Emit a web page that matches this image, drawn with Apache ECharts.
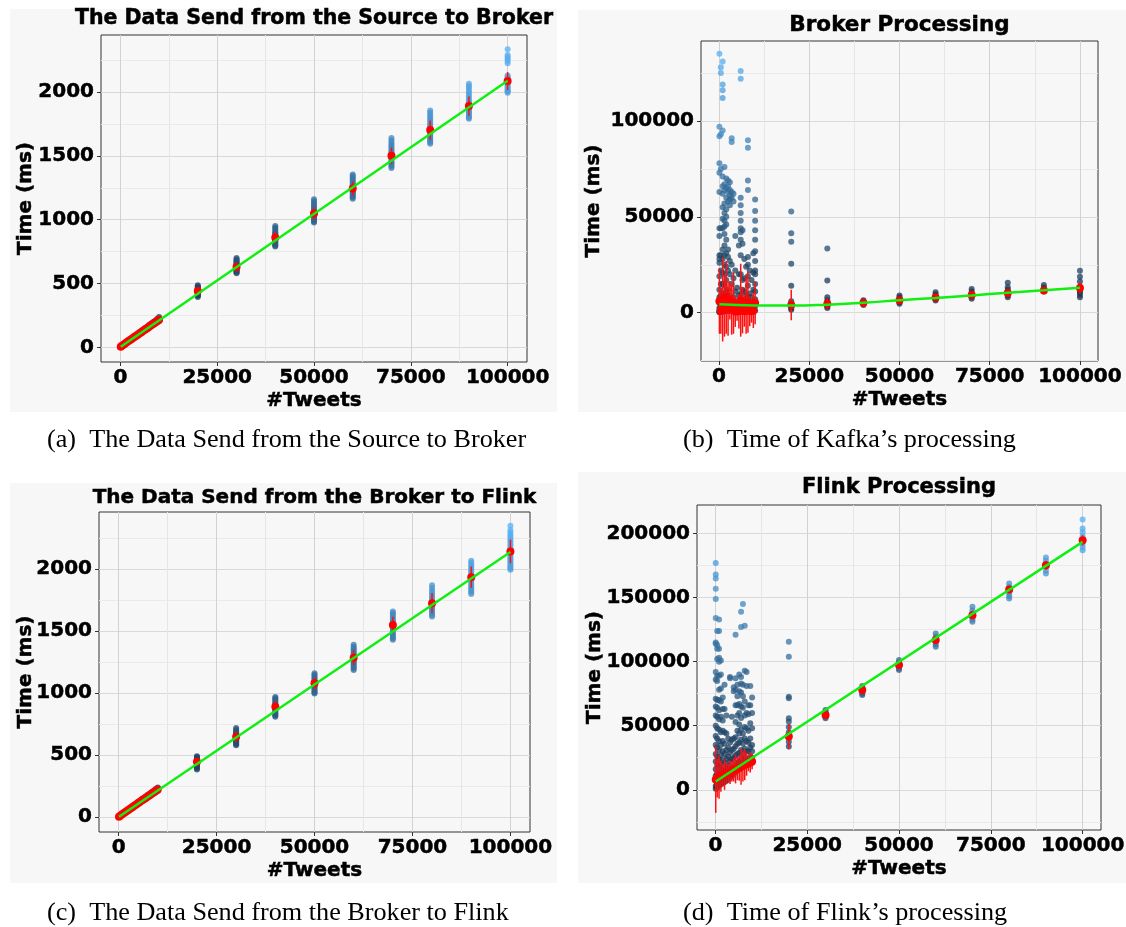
<!DOCTYPE html>
<html>
<head>
<meta charset="utf-8">
<title>Tweets timing</title>
<script src="https://cdn.jsdelivr.net/npm/echarts@6/dist/echarts.min.js"></script>
<style>
  html, body { margin: 0; padding: 0; background: #fff; }
  #main { width: 1126px; height: 927px; }
</style>
</head>
<body>
<div id="main"></div>
<script>
// x values (number of tweets)
const tweetsSmall = [100, 500, 1000, 1500, 2000, 2500, 3000, 3500, 4000, 4500, 5000, 5500, 6000, 6500, 7000, 7500, 8000, 8500, 9000, 9500, 10000];
const tweetsLarge = [20000, 30000, 40000, 50000, 60000, 70000, 80000, 90000, 100000];
const tweets = tweetsSmall.concat(tweetsLarge);

// tick labels
const xTicks = [0, 25000, 50000, 75000, 100000];
const xMinorTicks = [12500, 37500, 62500, 87500];
const yTicksSend = [0, 500, 1000, 1500, 2000];
const yMinorSend = [250, 750, 1250, 1750, 2250];
const yTicksBroker = [0, 50000, 100000];
const yMinorBroker = [-25000, 25000, 75000, 125000];
const yTicksFlink = [0, 50000, 100000, 150000, 200000];
const yMinorFlink = [-25000, 25000, 75000, 125000, 175000];

// (a) source -> broker, raw runs per x
const sourceToBrokerRaw = [
  [2, 4, 5, 8], [10, 12, 15, 19], [20, 23, 26, 31], [31, 34, 37, 42], [41, 45, 48, 53],
  [52, 55, 58, 64], [62, 65, 69, 75], [72, 76, 80, 86], [82, 86, 91, 97], [92, 97, 101, 108],
  [103, 107, 112, 120], [113, 118, 123, 131], [123, 128, 134, 142], [134, 139, 145, 153], [144, 149, 155, 164],
  [154, 160, 166, 176], [165, 170, 177, 187], [175, 181, 188, 198], [185, 191, 198, 209], [195, 202, 209, 221],
  [205, 212, 220, 238],
  [395, 405, 410, 416, 422, 428, 432, 436, 440, 444, 448, 452, 456, 461, 466, 472, 478, 486],
  [581, 588, 592, 598, 605, 611, 618, 623, 628, 633, 638, 644, 650, 657, 665, 673, 682, 691, 700],
  [790, 797, 805, 813, 822, 831, 840, 848, 855, 862, 868, 875, 882, 891, 900, 912, 925, 938, 950],
  [978, 986, 995, 1003, 1012, 1021, 1030, 1038, 1045, 1052, 1060, 1070, 1080, 1092, 1105, 1118, 1130, 1145, 1160],
  [1165, 1175, 1185, 1195, 1205, 1215, 1225, 1234, 1242, 1251, 1260, 1270, 1280, 1292, 1305, 1318, 1330, 1342, 1355],
  [1405, 1418, 1430, 1440, 1450, 1462, 1475, 1487, 1498, 1509, 1520, 1532, 1545, 1560, 1575, 1590, 1605, 1622, 1640],
  [1595, 1608, 1620, 1632, 1645, 1658, 1670, 1684, 1698, 1709, 1720, 1735, 1750, 1768, 1785, 1802, 1820, 1838, 1855],
  [1790, 1802, 1815, 1828, 1840, 1852, 1865, 1876, 1888, 1900, 1912, 1928, 1945, 1965, 1985, 2005, 2025, 2045, 2065],
  [1995, 2005, 2015, 2028, 2040, 2052, 2065, 2075, 2085, 2098, 2110, 2120, 2130, 2225, 2245, 2260, 2275, 2290, 2335]
];
const sourceToBrokerMean = [4, 14, 25, 36, 47, 57, 68, 78, 89, 99, 110, 121, 131, 142, 152, 163, 174, 185, 195, 206, 217,
  441, 630, 860, 1049, 1245, 1500, 1702, 1890, 2086];
const sourceToBrokerSd = [3, 4, 4, 4, 5, 5, 5, 5, 6, 6, 6, 7, 7, 7, 8, 8, 8, 8, 9, 9, 10,
  25, 35, 45, 50, 55, 65, 75, 75, 70];
const sourceToBrokerFit = [4, 2088];

// (b) broker processing
const brokerProcRaw = [
  [135000, 97000, 92000, 78000, 73000, 63000, 44000, 40000, 30000, 28000, 26000, 19000, 12000, 8000, 5000, 2500, 1200, 500, 200],
  [128000, 125000, 93000, 75000, 44000, 30000, 22000, 15000, 9000, 4000, 1500, 600],
  [131000, 119000, 116000, 112000, 95000, 71000, 66000, 62000, 55000, 49000, 44000, 33000, 28000, 21000, 15000, 10000, 6000, 3000, 1000, 300],
  [76000, 67000, 64000, 57000, 52000, 48000, 45000, 41000, 35000, 30000, 25000, 20000, 14000, 9000, 5000, 2000, 700],
  [70000, 65000, 60000, 54000, 50000, 46000, 38000, 31000, 24000, 17000, 11000, 6000, 2500, 800],
  [69000, 66000, 63000, 58000, 33000, 29000, 22000, 12000, 7000, 3000, 900],
  [68000, 64000, 61000, 59000, 56000, 27000, 20000, 9000, 4000, 1200],
  [91000, 89000, 63000, 60000, 25000, 15000, 6000, 1500],
  [62000, 58000, 18000, 8000, 3000, 600],
  [40000, 22000, 11000, 4000, 900],
  [13000, 6000, 2000, 500],
  [35000, 20000, 9000, 3000, 800],
  [126000, 122000, 60000, 56000, 52000, 48000, 44000, 42000, 38000, 30000, 20000, 10000, 4000, 1000],
  [43000, 36000, 17000, 12000, 5000, 1500],
  [28000, 18000, 11000, 6000, 2000],
  [24000, 9000, 3000, 700],
  [90000, 86000, 69000, 64000, 29000, 25000, 19000, 14000, 8000, 3000, 1000],
  [22000, 10000, 4000, 1200],
  [17000, 8000, 2500, 600],
  [31000, 21000, 12000, 5000, 1500],
  [59000, 53000, 48000, 43000, 38000, 32000, 27000, 22000, 20000, 15000, 11000, 7000, 3500, 1200],
  [52800, 41400, 37000, 25500, 14000, 6000, 4500, 3500, 2500, 1500],
  [33500, 16800, 8000, 6500, 5000, 4000, 3200, 2500],
  [6500, 5800, 5200, 4600, 4000],
  [9000, 8000, 7000, 6200, 5500, 4700],
  [10700, 9500, 8500, 7800, 7000, 6400],
  [12400, 11000, 9800, 9000, 8200, 7300],
  [15600, 13300, 12000, 11000, 10000, 9000, 8100],
  [14500, 13200, 12200, 11500, 11000],
  [21900, 18700, 16200, 13500, 12500, 11500, 10500, 9300, 8100]
];
const brokerProcMean = [6000, 1000, 7000, 3500, 8000, 2000, 6500, 1500, 5000, 600, 800, 700, 6500, 1200, 700, 4000, 5500, 900, 800, 1000, 5000,
  4000, 4600, 5200, 6500, 7900, 9200, 10300, 11600, 12900];
const brokerProcSd = [17000, 12000, 22000, 16000, 19000, 14000, 10000, 13000, 16000, 8000, 5000, 9000, 19000, 12000, 8000, 15000, 16000, 8000, 6000, 9000, 11000,
  8000, 3000, 800, 1200, 1300, 1500, 1900, 1200, 3000];
const fitTweetsCurve = [100, 10000, 20000, 30000, 40000, 50000, 60000, 70000, 80000, 90000, 100000];
const brokerProcFit = [4400, 3800, 3700, 4200, 5200, 6500, 7700, 9000, 10400, 11700, 13000];

// (c) broker -> flink
const brokerToFlinkRaw = [
  [1, 3, 5, 7], [9, 12, 15, 18], [21, 24, 27, 30], [32, 35, 38, 42], [43, 46, 49, 54],
  [53, 57, 60, 65], [64, 67, 71, 77], [75, 78, 82, 88], [85, 89, 93, 99], [96, 100, 104, 111],
  [106, 111, 115, 122], [117, 122, 126, 134], [128, 132, 137, 146], [138, 143, 148, 157], [149, 154, 160, 169],
  [159, 165, 171, 181], [170, 176, 182, 192], [181, 187, 193, 203], [191, 197, 204, 215], [202, 208, 215, 227],
  [212, 219, 226, 240],
  [385, 395, 405, 413, 420, 427, 433, 439, 445, 450, 455, 461, 466, 472, 478, 485, 492],
  [580, 588, 595, 604, 612, 620, 628, 636, 645, 652, 660, 668, 675, 685, 695, 707, 720],
  [810, 819, 828, 838, 848, 858, 868, 878, 888, 896, 905, 915, 925, 936, 948, 959, 970],
  [998, 1006, 1015, 1025, 1035, 1045, 1055, 1065, 1075, 1085, 1095, 1105, 1115, 1126, 1138, 1149, 1160],
  [1187, 1198, 1210, 1222, 1235, 1248, 1260, 1272, 1285, 1298, 1310, 1322, 1335, 1348, 1360, 1375, 1390],
  [1430, 1442, 1455, 1468, 1480, 1495, 1510, 1525, 1540, 1555, 1570, 1585, 1600, 1615, 1630, 1644, 1658],
  [1617, 1631, 1645, 1660, 1675, 1688, 1700, 1711, 1722, 1736, 1750, 1768, 1785, 1805, 1825, 1848, 1870],
  [1800, 1815, 1830, 1845, 1860, 1878, 1895, 1912, 1930, 1945, 1960, 1978, 1995, 2012, 2030, 2049, 2068],
  [1995, 2008, 2020, 2035, 2050, 2065, 2080, 2095, 2110, 2125, 2140, 2155, 2170, 2188, 2205, 2222, 2240, 2258, 2275, 2295, 2315, 2350]
];
const brokerToFlinkMean = [4, 14, 26, 37, 48, 59, 70, 81, 92, 103, 114, 125, 136, 147, 158, 169, 180, 191, 202, 213, 224,
  447, 648, 890, 1079, 1286, 1550, 1725, 1935, 2142];
const brokerToFlinkSd = [3, 4, 4, 4, 5, 5, 5, 6, 6, 6, 7, 7, 7, 8, 8, 8, 9, 9, 9, 10, 10,
  28, 40, 45, 48, 60, 65, 80, 85, 95];
const brokerToFlinkFit = [4, 2138];

// (d) flink processing
const flinkProcRaw = [
  [177000, 168000, 165000, 157000, 149000, 134000, 115000, 114000, 92000, 86000, 71000, 65000, 58000, 50000, 42000, 35000, 28000, 22000, 16000, 11000, 7000, 3000, 800],
  [124000, 113000, 110000, 102000, 89000, 85000, 70000, 64000, 57000, 48000, 40000, 33000, 26000, 19000, 13000, 8000, 4000, 1500],
  [133000, 124000, 110000, 103000, 100000, 89000, 78000, 70000, 62000, 55000, 47000, 38000, 31000, 24000, 18000, 12000, 7000, 3000],
  [101000, 90000, 79000, 69000, 57000, 45000, 35000, 27000, 20000, 14000, 9000, 4500],
  [72000, 63000, 54000, 46000, 38000, 30000, 23000, 16000, 10000, 5000],
  [82000, 63000, 45000, 36000, 28000, 21000, 15000, 9000, 6000],
  [58000, 44000, 31000, 24000, 17000, 11000, 7000],
  [40000, 33000, 26000, 19000, 13000, 8000],
  [88000, 87000, 37000, 29000, 22000, 15000, 9500],
  [57000, 39000, 31000, 24000, 17000, 11000],
  [80000, 77000, 40000, 32000, 25000, 18000, 12000],
  [121000, 87000, 78000, 66000, 53000, 41000, 34000, 27000, 20000, 14000],
  [82000, 73000, 66000, 58000, 46000, 36000, 28000, 21000, 15000],
  [90000, 77000, 67000, 60000, 51000, 44000, 37000, 29000, 22000, 16000],
  [139000, 127000, 88000, 83000, 76000, 65000, 56000, 47000, 39000, 31000, 24000, 17000],
  [145000, 82000, 73000, 64000, 44000, 36000, 28000, 21000],
  [128000, 93000, 69000, 58000, 49000, 40000, 32000, 25000, 19000],
  [92000, 81000, 60000, 48000, 38000, 30000, 23000],
  [66000, 59000, 46000, 37000, 30000, 24000],
  [81000, 66000, 52000, 40000, 33000, 26000, 21000],
  [72000, 60000, 48000, 35000, 30000, 25000, 21000],
  [115600, 103900, 72700, 71400, 55800, 53200, 49000, 45000, 41000, 37500, 33800],
  [62300, 61000, 59500, 58000, 57000, 55800],
  [81000, 79500, 78000, 76500, 75000, 74000],
  [101300, 99500, 97500, 96000, 94500, 93500],
  [122000, 119500, 117500, 115500, 113500, 111700],
  [142800, 140000, 137500, 135000, 133000, 131100],
  [161000, 158500, 156000, 153500, 151000, 149300],
  [181300, 179000, 176500, 174000, 171000, 168800],
  [210900, 203900, 201000, 198000, 195000, 192000, 189500, 187000]
];
const flinkProcMean = [8000, 9000, 10000, 10500, 11500, 12000, 12500, 13000, 13500, 14500, 15500, 16000, 16500, 17000, 18000, 18500, 19500, 20000, 20500, 21500, 22000,
  41600, 58400, 77900, 97400, 116900, 136300, 156300, 175300, 194800];
const flinkProcSd = [26000, 15000, 17000, 12000, 9000, 12000, 8000, 7000, 9000, 8000, 9000, 11000, 9000, 10000, 14000, 12000, 12000, 9000, 6000, 8000, 6000,
  10000, 2000, 2000, 2000, 2500, 3000, 3000, 3500, 4000];
const fitTweetsLine = [100, 100000];
const flinkProcFit = [6500, 193500];

const FONT = 'DejaVu Sans';

const panels = [
  { title: 'The Data Send from the Source to Broker', caption: '(a)  The Data Send from the Source to Broker',
    raw: sourceToBrokerRaw, mean: sourceToBrokerMean, sd: sourceToBrokerSd, fitX: fitTweetsLine, fitY: sourceToBrokerFit,
    yTicks: yTicksSend, yMinor: yMinorSend, ymin: -115, ymax: 2447, colorMax: 2340, smooth: false,
    grid: { left: 101, top: 35, width: 426, height: 327 }, bg: [10, 9, 547, 403],
    titleY: 19, titleSize: 20.5, captionX: 47, captionY: 440, yNameGap: 65 },
  { title: 'Broker Processing', caption: '(b)  Time of Kafka\u2019s processing',
    raw: brokerProcRaw, mean: brokerProcMean, sd: brokerProcSd, fitX: fitTweetsCurve, fitY: brokerProcFit,
    yTicks: yTicksBroker, yMinor: yMinorBroker, ymin: -25200, ymax: 141700, colorMax: 135000, smooth: true,
    grid: { left: 701, top: 41, width: 397, height: 320 }, bg: [578, 10, 548, 402],
    titleY: 25, titleSize: 21.5, captionX: 683, captionY: 440, yNameGap: 97 },
  { title: 'The Data Send from the Broker to Flink', caption: '(c)  The Data Send from the Broker to Flink',
    raw: brokerToFlinkRaw, mean: brokerToFlinkMean, sd: brokerToFlinkSd, fitX: fitTweetsLine, fitY: brokerToFlinkFit,
    yTicks: yTicksSend, yMinor: yMinorSend, ymin: -119, ymax: 2460, colorMax: 2350, smooth: false,
    grid: { left: 99, top: 512, width: 431, height: 320 }, bg: [10, 483, 547, 400],
    titleY: 498, titleSize: 20, captionX: 47, captionY: 913, yNameGap: 63 },
  { title: 'Flink Processing', caption: '(d)  Time of Flink\u2019s processing',
    raw: flinkProcRaw, mean: flinkProcMean, sd: flinkProcSd, fitX: fitTweetsLine, fitY: flinkProcFit,
    yTicks: yTicksFlink, yMinor: yMinorFlink, ymin: -31400, ymax: 222300, colorMax: 211000, smooth: false,
    grid: { left: 697, top: 505, width: 404, height: 325 }, bg: [578, 472, 548, 411],
    titleY: 488, titleSize: 21, captionX: 683, captionY: 913, yNameGap: 92 }
];

function rawPoints(raw) {
  const out = [];
  raw.forEach((vals, i) => vals.forEach(v => out.push([tweets[i], v])));
  return out;
}

const plainNumber = v => String(v);
const labelStyle = { color: '#000', fontFamily: FONT, fontWeight: 'bold', fontSize: 20, formatter: plainNumber,
  textBorderColor: '#000', textBorderWidth: 0.5 };
const nameStyle = { color: '#000', fontFamily: FONT, fontWeight: 'bold', fontSize: 20,
  textBorderColor: '#000', textBorderWidth: 0.5 };

const grids = [], xAxes = [], yAxes = [], series = [], visualMaps = [], graphics = [];

panels.forEach((p, g) => {
  graphics.push({ type: 'rect', z: -100, shape: { x: p.bg[0], y: p.bg[1], width: p.bg[2], height: p.bg[3] },
    style: { fill: '#f7f7f7' } });
  grids.push(Object.assign({ show: true, backgroundColor: 'transparent', borderColor: '#333', borderWidth: 1,
    outerBoundsMode: 'none' }, p.grid));

  const cx = p.grid.left + p.grid.width / 2;
  graphics.push({ type: 'text', z: 100, x: cx, y: p.titleY,
    style: { text: p.title, fontFamily: FONT, fontWeight: 'bold', fontSize: p.titleSize, fill: '#000',
      stroke: '#000', lineWidth: 0.5,
      align: 'center', verticalAlign: 'middle', textAlign: 'center', textVerticalAlign: 'middle' } });
  graphics.push({ type: 'text', z: 100, x: p.captionX, y: p.captionY,
    style: { text: p.caption, fontFamily: 'Liberation Serif', fontSize: 26.2, fill: '#000',
      align: 'left', verticalAlign: 'middle', textAlign: 'left', textVerticalAlign: 'middle' } });

  // main x axis + minor grid axis
  xAxes.push({
    type: 'value', gridIndex: g, min: -5000, max: 105000, position: 'bottom',
    axisLine: { show: false, onZero: false },
    axisTick: { show: true, customValues: xTicks, length: 4, lineStyle: { color: '#333', width: 1 } },
    axisLabel: Object.assign({ customValues: xTicks, margin: 6 }, labelStyle),
    splitLine: { show: true, lineStyle: { color: '#d2d2d2', width: 1 } },
    name: '#Tweets', nameLocation: 'middle', nameGap: 29, nameMoveOverlap: false, nameTextStyle: nameStyle
  });
  xAxes.push({
    type: 'value', gridIndex: g, min: -5000, max: 105000, position: 'bottom',
    axisLine: { show: false, onZero: false },
    axisTick: { show: false, customValues: xMinorTicks },
    axisLabel: { show: false, customValues: xMinorTicks },
    splitLine: { show: true, lineStyle: { color: '#e6e6e6', width: 1 } }
  });
  yAxes.push({
    type: 'value', gridIndex: g, min: p.ymin, max: p.ymax, position: 'left',
    axisLine: { show: false, onZero: false },
    axisTick: { show: true, customValues: p.yTicks, length: 4, lineStyle: { color: '#333', width: 1 } },
    axisLabel: Object.assign({ customValues: p.yTicks, margin: 7 }, labelStyle),
    splitLine: { show: true, lineStyle: { color: '#d9d9d9', width: 1 } },
    name: 'Time (ms)', nameLocation: 'middle', nameGap: p.yNameGap, nameMoveOverlap: false, nameTextStyle: nameStyle
  });
  yAxes.push({
    type: 'value', gridIndex: g, min: p.ymin, max: p.ymax, position: 'left',
    axisLine: { show: false, onZero: false },
    axisTick: { show: false, customValues: p.yMinor },
    axisLabel: { show: false, customValues: p.yMinor },
    splitLine: { show: true, lineStyle: { color: '#eaeaea', width: 1 } }
  });

  const xi = 2 * g, yi = 2 * g;
  series.push({
    type: 'scatter', xAxisIndex: xi, yAxisIndex: yi, z: 2, silent: true,
    symbolSize: 6, itemStyle: { opacity: 0.75 }, data: rawPoints(p.raw)
  });
  series.push({
    type: 'custom', xAxisIndex: xi, yAxisIndex: yi, z: 3, silent: true,
    encode: { x: 0, y: [1, 2] },
    data: p.mean.map((m, i) => [tweets[i], m - p.sd[i], m + p.sd[i]]),
    renderItem: function (params, api) {
      const lo = api.coord([api.value(0), api.value(1)]);
      const hi = api.coord([api.value(0), api.value(2)]);
      return { type: 'line', shape: { x1: lo[0], y1: lo[1], x2: hi[0], y2: hi[1] },
        style: { stroke: '#ff1010', lineWidth: 1.5 } };
    }
  });
  series.push({
    type: 'scatter', xAxisIndex: xi, yAxisIndex: yi, z: 4, silent: true,
    symbolSize: 8, itemStyle: { color: '#ff0000', opacity: 1 },
    data: p.mean.map((m, i) => [tweets[i], m])
  });
  series.push({
    type: 'line', xAxisIndex: xi, yAxisIndex: yi, z: 5, silent: true,
    symbol: 'none', smooth: p.smooth, lineStyle: { color: '#11ee11', width: 2.5 },
    data: p.fitX.map((x, i) => [x, p.fitY[i]])
  });
  visualMaps.push({
    type: 'continuous', show: false, seriesIndex: 4 * g, dimension: 1,
    min: 0, max: p.colorMax, inRange: { color: ['#132B43', '#56B1F7'] }
  });
});

const chart = echarts.init(document.getElementById('main'));
chart.setOption({
  animation: false,
  backgroundColor: '#fff',
  grid: grids,
  xAxis: xAxes,
  yAxis: yAxes,
  visualMap: visualMaps,
  graphic: { elements: graphics },
  series: series
});
</script>
</body>
</html>
